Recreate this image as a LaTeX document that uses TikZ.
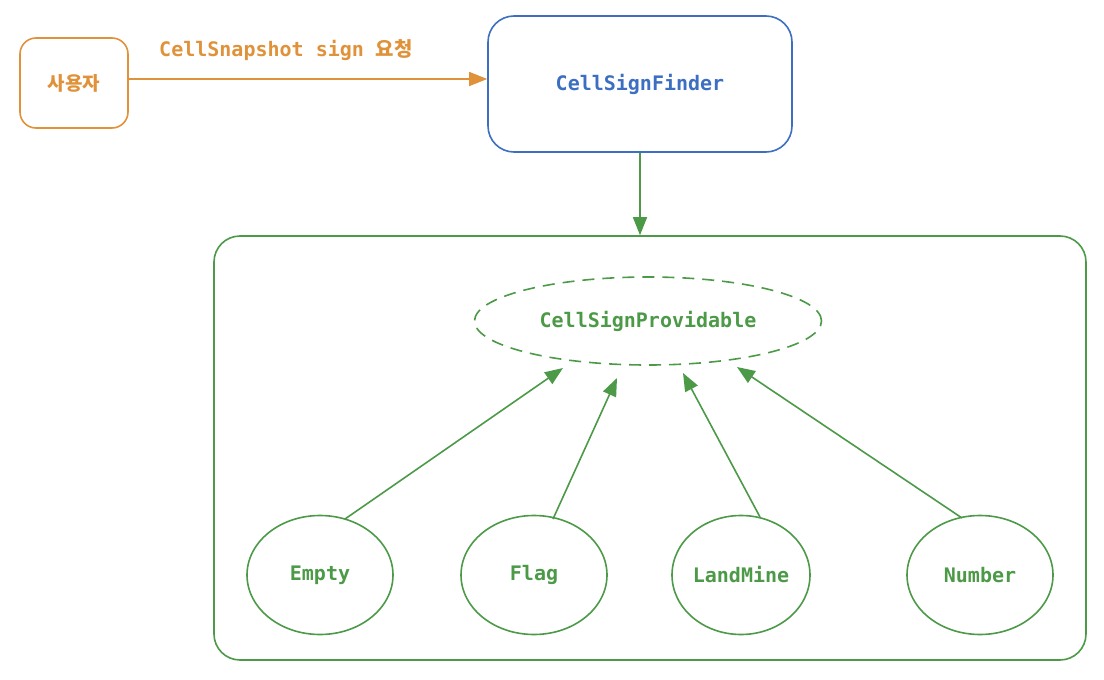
\documentclass[tikz,border=0pt]{standalone}
\usepackage{fontspec}
\setmonofont{DejaVu Sans Mono}
\newfontfamily\krfont{Noto Sans CJK KR}
\usetikzlibrary{arrows.meta,shapes.geometric}
\definecolor{orng}{HTML}{E0923A}
\definecolor{grn}{HTML}{4C9A48}
\definecolor{blu}{HTML}{3C6FC1}
\tikzset{
  lbl/.style={font=\fontsize{20}{24}\selectfont\ttfamily\bfseries},
  orangebox/.style={draw=orng, line width=1.6pt, rounded corners=16pt, minimum width=108pt, minimum height=90pt, text=orng},
  bluebox/.style={draw=blu, line width=1.6pt, rounded corners=26pt, minimum width=304pt, minimum height=136pt, text=blu, lbl},
  circ/.style={draw=grn, line width=1.6pt, ellipse, inner sep=0pt, minimum width=146pt, minimum height=119pt, text=grn, lbl},
  arr/.style={line width=1.6pt, -{Triangle[length=18pt,width=14pt]}},
}
\begin{document}
\begin{tikzpicture}[x=1pt,y=-1pt]
\useasboundingbox (0,0) rectangle (1104,680);
\node[orangebox, font=\krfont\bfseries\fontsize{19}{22}\selectfont] (user) at (74,83) {사용자};
\node[bluebox] (finder) at (640,84) {CellSignFinder};
\node[draw=grn, line width=1.6pt, rounded corners=26pt, minimum width=872pt, minimum height=424pt] (group) at (650,448) {};
\node[draw=grn, line width=1.6pt, dashed, dash pattern=on 12pt off 8pt, ellipse, minimum width=347pt, minimum height=88pt, text=grn, lbl] (prov) at (648,321) {CellSignProvidable};
\node[circ] (empty) at (320,575) {Empty};
\node[circ] (flag) at (534,575) {Flag};
\node[circ, minimum width=138pt] (land) at (741,575) {LandMine};
\node[circ] (number) at (980,575) {Number};
\coordinate (c1) at (563,368);
\coordinate (c2) at (617,378);
\coordinate (c3) at (683,373);
\coordinate (c4) at (737,367);
\draw[arr, draw=orng, fill=orng] (user.east |- 0,79) -- node[above=14pt, lbl, text=orng, xshift=-22pt] {CellSnapshot sign {\krfont\bfseries 요청}} (finder.west |- 0,79);
\draw[arr, draw=grn, fill=grn] (finder.south) -- (group.north -| finder.south);
\draw[arr, draw=grn, fill=grn] (345,519) -- (c1);
\draw[arr, draw=grn, fill=grn] (553,519) -- (c2);
\draw[arr, draw=grn, fill=grn] (760,517) -- (c3);
\draw[arr, draw=grn, fill=grn] (962,518) -- (c4);
\end{tikzpicture}
\end{document}
